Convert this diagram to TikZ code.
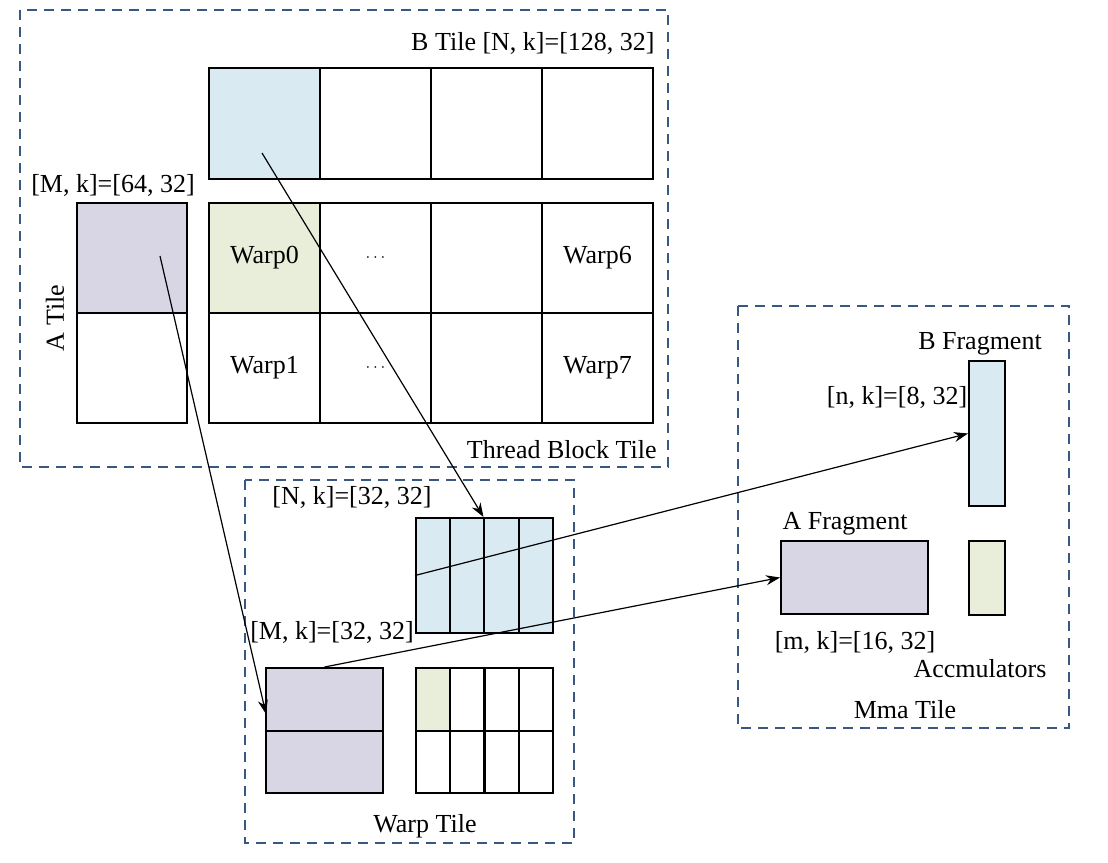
\documentclass[tikz,border=0pt]{standalone}
\usepackage{fontspec}
\setmainfont{Liberation Serif}
\usetikzlibrary{arrows.meta,calc}
\definecolor{tileblue}{HTML}{DAEAF3}
\definecolor{tilepurple}{HTML}{D8D6E5}
\definecolor{tilegreen}{HTML}{E8EEDA}
\definecolor{dashcol}{HTML}{3A5683}
\begin{document}
\begin{tikzpicture}[x=0.5pt,y=-0.5pt,
  lbl/.style={font=\fontsize{13}{15}\selectfont, inner sep=0pt},
  cell/.style={draw=black, line width=1pt, inner sep=0pt, font=\fontsize{13}{15}\selectfont},
  bigcell/.style={cell, minimum width=55.5pt, minimum height=55.5pt},
  warpcell/.style={cell, minimum width=55.5pt, minimum height=55pt},
  acell/.style={cell, minimum width=55pt, minimum height=55pt},
  thin/.style={cell, minimum width=17.125pt, minimum height=57.5pt},
  small/.style={cell, minimum width=17.125pt, minimum height=31.25pt},
  pcell/.style={cell, minimum width=58.5pt, minimum height=31.25pt},
  region/.style={draw=dashcol, line width=0.8pt, dash pattern=on 5pt off 3.5pt},
  arr/.style={draw=black, line width=0.6pt, -{Stealth[length=7pt,width=5pt]}}]
\useasboundingbox[fill=white] (0,0) rectangle (1108,862);

% dashed regions
\draw[region] (20,10) rectangle (668,467);
\draw[region] (245,480) rectangle (574,843);
\draw[region] (738,306) rectangle (1069,728);

% B tile
\node[bigcell, fill=tileblue] (bt1) at (264.5,123.5) {};
\node[bigcell] (bt2) at (375.5,123.5) {};
\node[bigcell] (bt3) at (486.5,123.5) {};
\node[bigcell] (bt4) at (597.5,123.5) {};
\node[lbl, anchor=east] (btl) at (655,43) {B Tile [N, k]=[128, 32]};

% Warp grid
\node[warpcell, fill=tilegreen] (w11) at (264.5,258) {Warp0};
\node[warpcell] (w12) at (375.5,258) {{\footnotesize$\cdots$}};
\node[warpcell] (w13) at (486.5,258) {};
\node[warpcell] (w14) at (597.5,258) {Warp6};
\node[warpcell] (w21) at (264.5,368) {Warp1};
\node[warpcell] (w22) at (375.5,368) {{\footnotesize$\cdots$}};
\node[warpcell] (w23) at (486.5,368) {};
\node[warpcell] (w24) at (597.5,368) {Warp7};
\node[lbl, anchor=east] (tbt) at (657,450) {Thread Block Tile};

% A tile
\node[acell, fill=tilepurple] (at1) at (132,258) {};
\node[acell] (at2) at (132,368) {};
\node[lbl] (atl) at (113,185) {[M, k]=[64, 32]};
\node[lbl, rotate=90] (atn) at (55,318) {A Tile};

% Warp tile: B part
\node[thin, fill=tileblue] (wb1) at (433.1,575.5) {};
\node[thin, fill=tileblue] (wb2) at (467.4,575.5) {};
\node[thin, fill=tileblue] (wb3) at (501.6,575.5) {};
\node[thin, fill=tileblue] (wb4) at (535.9,575.5) {};
\node[lbl] (wbl) at (352,497) {[N, k]=[32, 32]};

% Warp tile: A part
\node[pcell, fill=tilepurple] (pa1) at (324.5,699.25) {};
\node[pcell, fill=tilepurple] (pa2) at (324.5,761.75) {};
\node[lbl] (pal) at (332,632) {[M, k]=[32, 32]};

% Warp tile: accumulators
\node[small, fill=tilegreen] (c11) at (433.1,699.25) {};
\node[small] (c12) at (467.4,699.25) {};
\node[small] (c13) at (501.6,699.25) {};
\node[small] (c14) at (535.9,699.25) {};
\node[small] (c21) at (433.1,761.75) {};
\node[small] (c22) at (467.4,761.75) {};
\node[small] (c23) at (501.6,761.75) {};
\node[small] (c24) at (535.9,761.75) {};
\node[lbl] (wtl) at (425,826) {Warp Tile};

% Mma tile
\node[cell, fill=tileblue, minimum width=18pt, minimum height=72.5pt] (bf) at (987,433.5) {};
\node[cell, fill=tilepurple, minimum width=73.5pt, minimum height=36.5pt] (af) at (854.5,577.5) {};
\node[cell, fill=tilegreen, minimum width=18pt, minimum height=37pt] (acc) at (987,578) {};
\node[lbl] (bfl) at (980,344) {B Fragment};
\node[lbl] (bfd) at (897,397) {[n, k]=[8, 32]};
\node[lbl] (afl) at (845,524) {A Fragment};
\node[lbl] (afd) at (855,642) {[m, k]=[16, 32]};
\node[lbl] (accl) at (980,669) {Accmulators};
\node[lbl] (mtl) at (905,710) {Mma Tile};

% arrows
\coordinate (s1) at (262,153);
\coordinate (s2) at (160,256);
\coordinate (e2) at (266,714);
\draw[arr] (s1) -- (wb3.north west);
\draw[arr] (s2) -- (e2);
\draw[arr] (wb1.west) -- (bf.west);
\draw[arr] (pa1.north) -- (af.west);
\end{tikzpicture}
\end{document}
